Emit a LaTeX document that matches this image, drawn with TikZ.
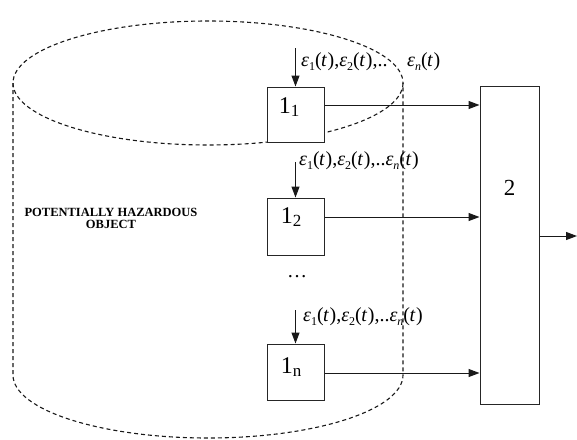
\documentclass[tikz,border=0pt]{standalone}
\usepackage{fontspec}
\setmainfont{Liberation Serif}
\usetikzlibrary{arrows.meta}
\newcommand{\ep}[1]{\textit{ε}\raisebox{-0.35ex}{\fontsize{12}{12}\selectfont #1}}
\newcommand{\tpar}{(\kern-0.5pt\textit{t}\kern0.5pt)}
\tikzset{
  dsh/.style={dash pattern=on 4pt off 3pt, line width=1.1pt, black!90},
  blk/.style={draw=black!85, line width=1pt, fill=white, minimum width=57pt, inner sep=0pt},
  arr/.style={line width=1pt, black!90, -{Triangle[length=11pt,width=8pt]}},
  eps/.style={font=\fontsize{20}{22}\selectfont, inner sep=0pt, anchor=west},
  num/.style={font=\fontsize{24}{26}\selectfont, inner sep=0pt},
}
\begin{document}
\begin{tikzpicture}[x=1pt,y=-1pt]
\useasboundingbox (0,0) rectangle (577,439);
% cylinder
\draw[dsh] (208,83) ellipse [x radius=195, y radius=62];
\draw[dsh] (13,83) -- (13,375) arc[start angle=180, end angle=360, x radius=195, y radius=-63] -- (403,83);
% boxes
\node[blk, minimum height=55pt] (b1) at (295.5,114.5) {};
\node[blk, minimum height=57pt] (b2) at (295.5,226.5) {};
\node[blk, minimum height=56pt] (bn) at (295.5,372) {};
\node[blk, minimum width=59pt, minimum height=318pt] (B) at (509.5,245) {};
\node[num, font=\fontsize{23}{26}\selectfont] (t2) at (509.5,188) {2};
\node[num] (l1) at (289,107) {1\raisebox{-0.2ex}{\fontsize{17}{18}\selectfont 1}};
\node[num] (l2) at (291,217) {1\raisebox{-0.2ex}{\fontsize{17}{18}\selectfont 2}};
\node[num] (ln) at (291,367) {1\raisebox{-0.2ex}{\fontsize{17}{18}\selectfont n}};
% inputs
\coordinate (i1) at (295.5,48);
\coordinate (i2) at (295.5,162);
\coordinate (in) at (295.5,310);
\draw[arr] (i1) -- (b1.north);
\draw[arr] (i2) -- (b2.north);
\draw[arr] (in) -- (bn.north);
\node[eps] (e1) at (301,62) {\ep{1}\tpar,\ep{2}\tpar,..};
\node[eps] (e1n) at (407,62) {\ep{\textit{n}}\tpar};
\node[eps] (e2) at (299,161) {\ep{1}\tpar,\ep{2}\tpar,..\ep{\textit{n}}\tpar};
\node[eps] (e3) at (303,317) {\ep{1}\tpar,\ep{2}\tpar,..\ep{\textit{n}}\tpar};
\node[font=\fontsize{20}{20}\selectfont, inner sep=0pt] (dots) at (297,277) {…};
% outputs
\coordinate (o1) at (0,105);
\coordinate (o2) at (0,217);
\coordinate (on) at (0,373);
\coordinate (oo) at (577,236);
\draw[arr] (b1.east |- o1) -- (B.west |- o1);
\draw[arr] (b2.east |- o2) -- (B.west |- o2);
\draw[arr] (bn.east |- on) -- (B.west |- on);
\draw[arr] (B.east |- oo) -- (oo);
% label
\node[font=\bfseries\fontsize{12.5}{12}\selectfont, align=center, inner sep=0pt] (obj) at (111,218) {POTENTIALLY HAZARDOUS\\OBJECT};
\end{tikzpicture}
\end{document}
